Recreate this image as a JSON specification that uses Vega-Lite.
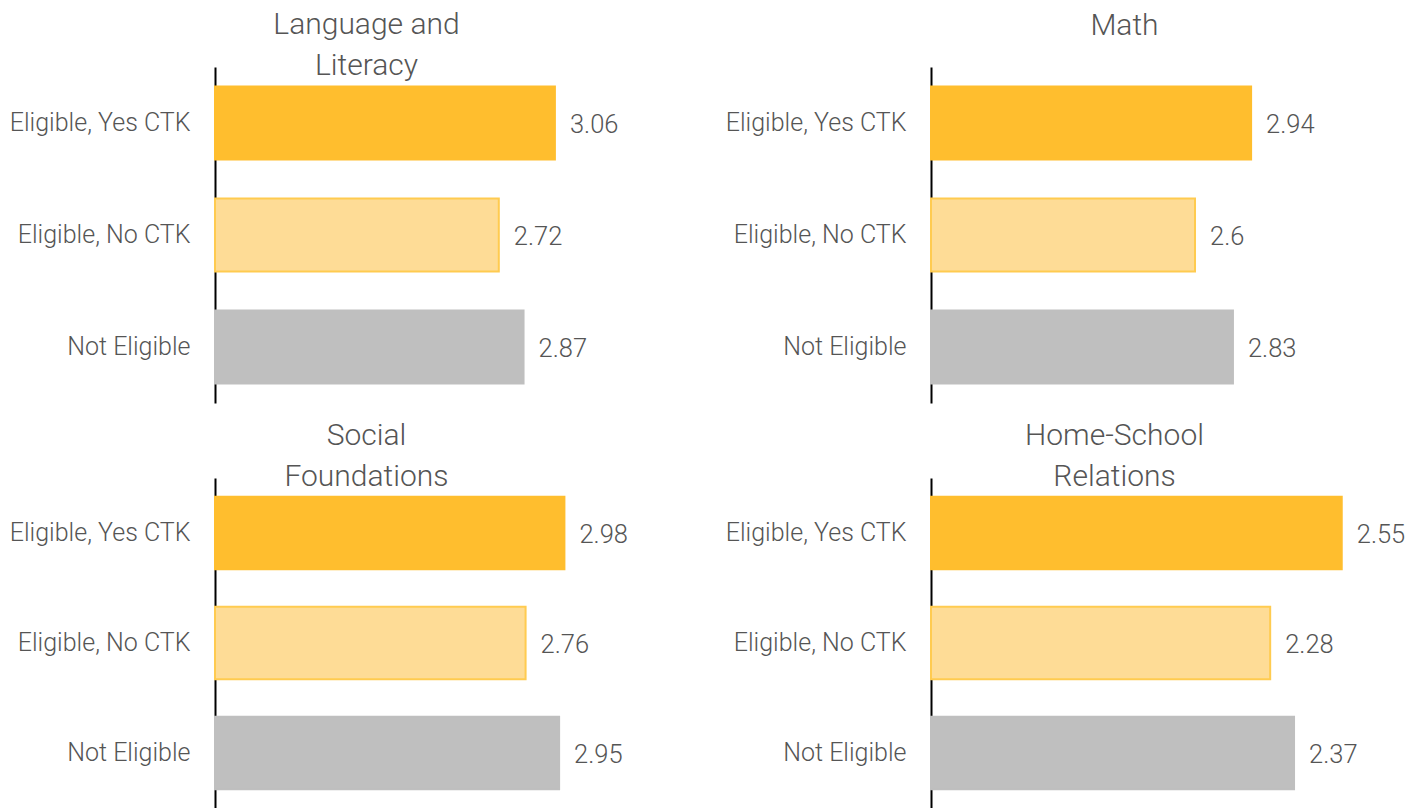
{
  "$schema": "https://vega.github.io/schema/vega-lite/v6.json",
  "padding": {"left": 9, "top": 10, "right": 0, "bottom": 0},
  "background": "white",
  "config": {
    "view": {"stroke": null},
    "font": "Roboto",
    "title": {"font": "Roboto", "fontWeight": 300, "fontSize": 30, "color": "#555555", "lineHeight": 41, "anchor": "middle"}
  },
  "datasets": {
    "scores": [
      {"domain": "Language and Literacy", "group": "Eligible, Yes CTK", "value": 3.06},
      {"domain": "Language and Literacy", "group": "Eligible, No CTK", "value": 2.72},
      {"domain": "Language and Literacy", "group": "Not Eligible", "value": 2.87},
      {"domain": "Math", "group": "Eligible, Yes CTK", "value": 2.94},
      {"domain": "Math", "group": "Eligible, No CTK", "value": 2.6},
      {"domain": "Math", "group": "Not Eligible", "value": 2.83},
      {"domain": "Social Foundations", "group": "Eligible, Yes CTK", "value": 2.98},
      {"domain": "Social Foundations", "group": "Eligible, No CTK", "value": 2.76},
      {"domain": "Social Foundations", "group": "Not Eligible", "value": 2.95},
      {"domain": "Home-School Relations", "group": "Eligible, Yes CTK", "value": 2.55},
      {"domain": "Home-School Relations", "group": "Eligible, No CTK", "value": 2.28},
      {"domain": "Home-School Relations", "group": "Not Eligible", "value": 2.37}
    ]
  },
  "data": {"name": "scores"},
  "columns": 2,
  "bounds": "flush",
  "spacing": {"row": 75, "column": 221},
  "concat": [
    {
      "width": 495, "height": 336,
      "title": {"text": ["Language and", "Literacy"], "dx": -96, "offset": -14},
      "transform": [{"filter": "datum.domain === 'Language and Literacy'"}],
      "encoding": {
        "y": {"field": "group", "type": "nominal", "sort": ["Eligible, Yes CTK", "Eligible, No CTK", "Not Eligible"],
          "scale": {"paddingInner": 0.35, "paddingOuter": 0.175},
          "axis": {"title": null, "domainColor": "black", "domainWidth": 2, "ticks": false, "labelPadding": 25, "labelLimit": 400, "labelFontSize": 25, "labelFont": "Roboto", "labelFontWeight": 300, "labelColor": "#555555", "grid": false}},
        "x": {"field": "value", "type": "quantitative", "scale": {"domain": [1, 4], "zero": false, "nice": false}, "axis": null}
      },
      "layer": [
        {"mark": {"type": "bar", "strokeWidth": 2},
         "encoding": {
           "x2": {"datum": 1},
           "color": {"field": "group", "type": "nominal", "scale": {"domain": ["Eligible, Yes CTK", "Eligible, No CTK", "Not Eligible"], "range": ["#FFBE2E", "#FEDC96", "#BFBFBF"]}, "legend": null},
           "stroke": {"field": "group", "type": "nominal", "scale": {"domain": ["Eligible, Yes CTK", "Eligible, No CTK", "Not Eligible"], "range": ["#FFBE2E", "#FFCB50", "#BFBFBF"]}, "legend": null}
         }},
        {"mark": {"type": "text", "align": "left", "baseline": "middle", "dx": 15, "dy": 2, "fontSize": 25.5, "fontWeight": 300, "font": "Roboto", "color": "#555555"},
         "encoding": {"text": {"field": "value", "type": "nominal"}}}
      ]
    },
    {
      "width": 495, "height": 336,
      "title": {"text": "Math", "dx": -54, "offset": 26},
      "transform": [{"filter": "datum.domain === 'Math'"}],
      "encoding": {
        "y": {"field": "group", "type": "nominal", "sort": ["Eligible, Yes CTK", "Eligible, No CTK", "Not Eligible"],
          "scale": {"paddingInner": 0.35, "paddingOuter": 0.175},
          "axis": {"title": null, "domainColor": "black", "domainWidth": 2, "ticks": false, "labelPadding": 25, "labelLimit": 400, "labelFontSize": 25, "labelFont": "Roboto", "labelFontWeight": 300, "labelColor": "#555555", "grid": false}},
        "x": {"field": "value", "type": "quantitative", "scale": {"domain": [1, 4], "zero": false, "nice": false}, "axis": null}
      },
      "layer": [
        {"mark": {"type": "bar", "strokeWidth": 2},
         "encoding": {
           "x2": {"datum": 1},
           "color": {"field": "group", "type": "nominal", "scale": {"domain": ["Eligible, Yes CTK", "Eligible, No CTK", "Not Eligible"], "range": ["#FFBE2E", "#FEDC96", "#BFBFBF"]}, "legend": null},
           "stroke": {"field": "group", "type": "nominal", "scale": {"domain": ["Eligible, Yes CTK", "Eligible, No CTK", "Not Eligible"], "range": ["#FFBE2E", "#FFCB50", "#BFBFBF"]}, "legend": null}
         }},
        {"mark": {"type": "text", "align": "left", "baseline": "middle", "dx": 15, "dy": 2, "fontSize": 25.5, "fontWeight": 300, "font": "Roboto", "color": "#555555"},
         "encoding": {"text": {"field": "value", "type": "nominal"}}}
      ]
    },
    {
      "width": 495, "height": 330,
      "title": {"text": ["Social", "Foundations"], "dx": -96, "offset": -14},
      "transform": [{"filter": "datum.domain === 'Social Foundations'"}],
      "encoding": {
        "y": {"field": "group", "type": "nominal", "sort": ["Eligible, Yes CTK", "Eligible, No CTK", "Not Eligible"],
          "scale": {"paddingInner": 0.34, "paddingOuter": 0.17},
          "axis": {"title": null, "domainColor": "black", "domainWidth": 2, "ticks": false, "labelPadding": 25, "labelLimit": 400, "labelFontSize": 25, "labelFont": "Roboto", "labelFontWeight": 300, "labelColor": "#555555", "grid": false}},
        "x": {"field": "value", "type": "quantitative", "scale": {"domain": [1, 3.805], "zero": false, "nice": false}, "axis": null}
      },
      "layer": [
        {"mark": {"type": "bar", "strokeWidth": 2},
         "encoding": {
           "x2": {"datum": 1},
           "color": {"field": "group", "type": "nominal", "scale": {"domain": ["Eligible, Yes CTK", "Eligible, No CTK", "Not Eligible"], "range": ["#FFBE2E", "#FEDC96", "#BFBFBF"]}, "legend": null},
           "stroke": {"field": "group", "type": "nominal", "scale": {"domain": ["Eligible, Yes CTK", "Eligible, No CTK", "Not Eligible"], "range": ["#FFBE2E", "#FFCB50", "#BFBFBF"]}, "legend": null}
         }},
        {"mark": {"type": "text", "align": "left", "baseline": "middle", "dx": 15, "dy": 2, "fontSize": 25.5, "fontWeight": 300, "font": "Roboto", "color": "#555555"},
         "encoding": {"text": {"field": "value", "type": "nominal"}}}
      ]
    },
    {
      "width": 495, "height": 330,
      "title": {"text": ["Home-School", "Relations"], "dx": -64, "offset": -14},
      "transform": [{"filter": "datum.domain === 'Home-School Relations'"}],
      "encoding": {
        "y": {"field": "group", "type": "nominal", "sort": ["Eligible, Yes CTK", "Eligible, No CTK", "Not Eligible"],
          "scale": {"paddingInner": 0.34, "paddingOuter": 0.17},
          "axis": {"title": null, "domainColor": "black", "domainWidth": 2, "ticks": false, "labelPadding": 25, "labelLimit": 400, "labelFontSize": 25, "labelFont": "Roboto", "labelFontWeight": 300, "labelColor": "#555555", "grid": false}},
        "x": {"field": "value", "type": "quantitative", "scale": {"domain": [1, 2.868], "zero": false, "nice": false}, "axis": null}
      },
      "layer": [
        {"mark": {"type": "bar", "strokeWidth": 2},
         "encoding": {
           "x2": {"datum": 1},
           "color": {"field": "group", "type": "nominal", "scale": {"domain": ["Eligible, Yes CTK", "Eligible, No CTK", "Not Eligible"], "range": ["#FFBE2E", "#FEDC96", "#BFBFBF"]}, "legend": null},
           "stroke": {"field": "group", "type": "nominal", "scale": {"domain": ["Eligible, Yes CTK", "Eligible, No CTK", "Not Eligible"], "range": ["#FFBE2E", "#FFCB50", "#BFBFBF"]}, "legend": null}
         }},
        {"mark": {"type": "text", "align": "left", "baseline": "middle", "dx": 15, "dy": 2, "fontSize": 25.5, "fontWeight": 300, "font": "Roboto", "color": "#555555"},
         "encoding": {"text": {"field": "value", "type": "nominal"}}}
      ]
    }
  ],
  "resolve": {"scale": {"x": "independent", "y": "independent", "color": "shared", "stroke": "shared"}}
}
